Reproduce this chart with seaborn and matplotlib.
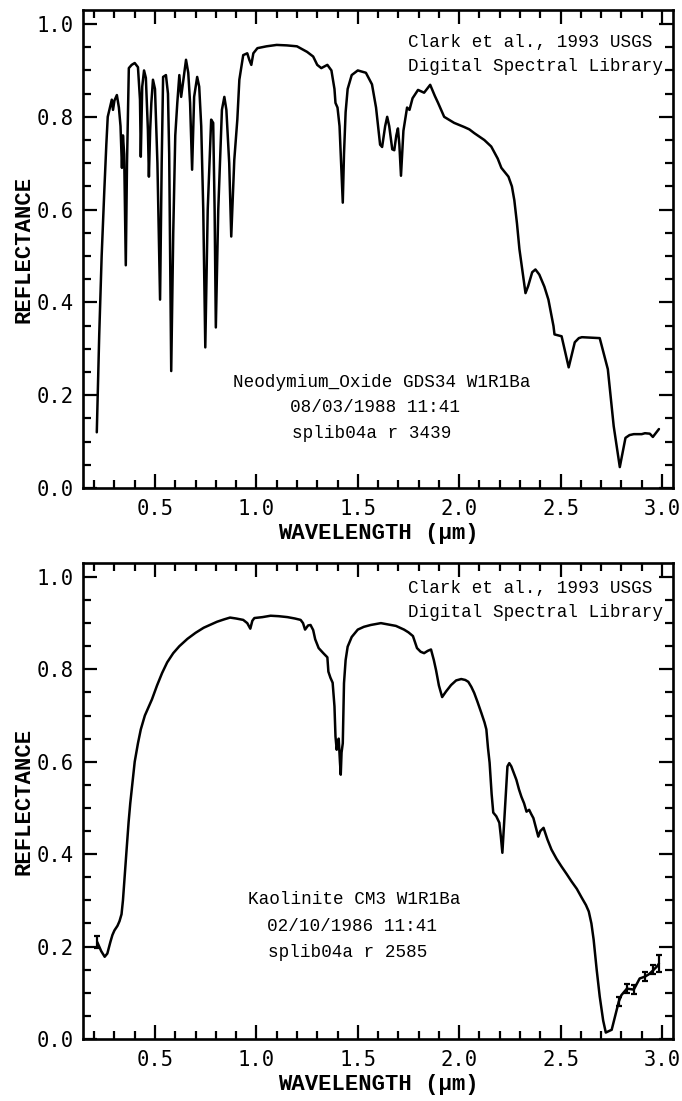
import matplotlib
matplotlib.use("Agg")
import matplotlib.pyplot as plt
from matplotlib.ticker import MultipleLocator
import seaborn as sns
import pandas as pd

# ---------------- data ----------------
neo_wl = [0.213, 0.225, 0.237, 0.250, 0.260, 0.267, 0.278, 0.287, 0.293, 0.300, 0.312,
          0.322, 0.330, 0.337, 0.342, 0.348, 0.352, 0.356, 0.362, 0.371, 0.385, 0.400,
          0.416, 0.426, 0.430, 0.437, 0.446, 0.455, 0.465, 0.470, 0.476, 0.482, 0.490,
          0.500, 0.512, 0.525, 0.533, 0.540, 0.554, 0.564, 0.570, 0.580, 0.590, 0.600,
          0.610, 0.620, 0.629, 0.640, 0.653, 0.664, 0.673, 0.683, 0.693, 0.708, 0.718,
          0.728, 0.738, 0.748, 0.760, 0.777, 0.787, 0.794, 0.800, 0.812, 0.830, 0.842,
          0.852, 0.866, 0.876, 0.891, 0.906, 0.916, 0.935, 0.955, 0.965, 0.975, 0.985,
          1.005, 1.05, 1.10, 1.15, 1.20, 1.25, 1.28, 1.30, 1.32, 1.35, 1.37, 1.385,
          1.39, 1.40, 1.41, 1.42, 1.426, 1.432, 1.44, 1.45, 1.47, 1.50, 1.54, 1.57,
          1.59, 1.61, 1.62, 1.635, 1.645, 1.655, 1.67, 1.68, 1.69, 1.698, 1.705, 1.713,
          1.725, 1.743, 1.755, 1.77, 1.797, 1.827, 1.857, 1.88, 1.896, 1.926, 1.975,
          2.025, 2.05, 2.074, 2.124, 2.158, 2.19, 2.208, 2.243, 2.26, 2.272, 2.285,
          2.297, 2.327, 2.34, 2.36, 2.376, 2.395, 2.42, 2.44, 2.465, 2.47, 2.505, 2.54,
          2.57, 2.59, 2.605, 2.693, 2.733, 2.762, 2.792, 2.82, 2.84, 2.861, 2.90, 2.916,
          2.94, 2.955, 2.985]
neo_refl = [0.12, 0.33, 0.50, 0.64, 0.74, 0.80, 0.82, 0.837, 0.815, 0.835, 0.847,
            0.82, 0.78, 0.69, 0.76, 0.72, 0.60, 0.48, 0.70, 0.905, 0.912, 0.916,
            0.907, 0.837, 0.714, 0.865, 0.90, 0.884, 0.772, 0.671, 0.77, 0.83, 0.88,
            0.86, 0.70, 0.406, 0.70, 0.886, 0.89, 0.85, 0.72, 0.252, 0.55, 0.76,
            0.83, 0.89, 0.843, 0.88, 0.923, 0.895, 0.83, 0.686, 0.843, 0.886, 0.865,
            0.78, 0.60, 0.303, 0.60, 0.794, 0.787, 0.60, 0.346, 0.60, 0.815, 0.843,
            0.815, 0.70, 0.542, 0.707, 0.794, 0.88, 0.933, 0.937, 0.923, 0.912, 0.937,
            0.948, 0.952, 0.955, 0.954, 0.952, 0.94, 0.93, 0.912, 0.905, 0.912, 0.90, 0.86,
            0.83, 0.82, 0.78, 0.68, 0.615, 0.72, 0.81, 0.86, 0.89, 0.90, 0.895, 0.87,
            0.82, 0.74, 0.735, 0.78, 0.80, 0.78, 0.73, 0.728, 0.76, 0.775, 0.74, 0.673,
            0.77, 0.82, 0.815, 0.84, 0.858, 0.852, 0.869, 0.845, 0.83, 0.80, 0.787,
            0.778, 0.773, 0.765, 0.75, 0.736, 0.71, 0.69, 0.671, 0.65, 0.62, 0.57,
            0.515, 0.42, 0.435, 0.465, 0.471, 0.46, 0.434, 0.406, 0.349, 0.331, 0.327, 0.26,
            0.314, 0.323, 0.325, 0.323, 0.256, 0.133, 0.045, 0.108, 0.114, 0.116, 0.116, 0.118,
            0.117, 0.11, 0.127]

kao_wl = [0.215, 0.235, 0.252, 0.265, 0.280, 0.290, 0.300, 0.315, 0.325, 0.335, 0.342,
          0.350, 0.360, 0.370, 0.378, 0.390, 0.400, 0.416, 0.430, 0.450, 0.485, 0.510,
          0.535, 0.560, 0.590, 0.620, 0.660, 0.700, 0.740, 0.780, 0.806, 0.840, 0.870,
          0.900, 0.935, 0.955, 0.970, 0.980, 0.990, 1.030, 1.070, 1.110, 1.153, 1.190,
          1.218, 1.230, 1.240, 1.255, 1.267, 1.280, 1.290, 1.307, 1.330, 1.350, 1.355,
          1.365, 1.376, 1.385, 1.390, 1.396, 1.402, 1.406, 1.412, 1.416, 1.420, 1.426,
          1.432, 1.440, 1.450, 1.470, 1.500, 1.530, 1.564, 1.614, 1.650, 1.688, 1.728,
          1.750, 1.772, 1.785, 1.792, 1.810, 1.827, 1.845, 1.861, 1.875, 1.886, 1.900,
          1.916, 1.935, 1.960, 1.985, 2.010, 2.030, 2.045, 2.060, 2.074, 2.090, 2.109,
          2.125, 2.134, 2.142, 2.150, 2.160, 2.168, 2.183, 2.198, 2.205, 2.213, 2.222,
          2.230, 2.238, 2.247, 2.257, 2.270, 2.282, 2.295, 2.307, 2.320, 2.332, 2.345,
          2.355, 2.366, 2.380, 2.390, 2.400, 2.416, 2.435, 2.455, 2.480, 2.505, 2.530,
          2.554, 2.580, 2.604, 2.625, 2.639, 2.652, 2.663, 2.678, 2.693, 2.710, 2.723,
          2.752, 2.787, 2.800, 2.827, 2.861, 2.890, 2.916, 2.935, 2.955, 2.975, 2.985]
kao_refl = [0.21, 0.19, 0.178, 0.185, 0.21, 0.225, 0.235, 0.245, 0.255, 0.27, 0.30,
            0.35, 0.41, 0.47, 0.51, 0.56, 0.60, 0.64, 0.67, 0.70, 0.735, 0.765,
            0.792, 0.815, 0.835, 0.85, 0.866, 0.879, 0.89, 0.898, 0.903, 0.908, 0.912,
            0.91, 0.907, 0.90, 0.888, 0.905, 0.911, 0.913, 0.916, 0.915, 0.913, 0.91,
            0.907, 0.90, 0.886, 0.895, 0.896, 0.885, 0.865, 0.846, 0.835, 0.826, 0.795,
            0.782, 0.771, 0.72, 0.655, 0.626, 0.645, 0.65, 0.60, 0.572, 0.62, 0.64,
            0.77, 0.82, 0.849, 0.87, 0.886, 0.892, 0.896, 0.90, 0.897, 0.894, 0.886,
            0.88, 0.872, 0.855, 0.846, 0.838, 0.835, 0.84, 0.843, 0.82, 0.798, 0.765,
            0.74, 0.752, 0.766, 0.776, 0.779, 0.777, 0.773, 0.762, 0.749, 0.73, 0.706,
            0.685, 0.67, 0.63, 0.598, 0.53, 0.49, 0.482, 0.468, 0.44, 0.403, 0.47,
            0.53, 0.59, 0.597, 0.59, 0.575, 0.561, 0.54, 0.524, 0.51, 0.492, 0.496,
            0.487, 0.478, 0.455, 0.438, 0.45, 0.457, 0.432, 0.41, 0.39, 0.373, 0.357,
            0.341, 0.325, 0.306, 0.29, 0.276, 0.25, 0.215, 0.15, 0.092, 0.04, 0.014,
            0.02, 0.081, 0.095, 0.109, 0.107, 0.131, 0.135, 0.14, 0.148, 0.157, 0.163]

kao_err_wl = [0.215, 2.787, 2.827, 2.861, 2.916, 2.955, 2.985]
kao_err_refl = [0.21, 0.081, 0.109, 0.107, 0.135, 0.150, 0.163]
kao_err = [0.012, 0.010, 0.010, 0.010, 0.010, 0.010, 0.018]

x_ticks = [0.5, 1.0, 1.5, 2.0, 2.5, 3.0]
y_ticks = [0.0, 0.2, 0.4, 0.6, 0.8, 1.0]

credit = ["Clark et al., 1993 USGS", "Digital Spectral Library"]
neo_label = ["Neodymium_Oxide GDS34 W1R1Ba", "08/03/1988 11:41", "splib04a r 3439"]
kao_label = ["Kaolinite CM3 W1R1Ba", "02/10/1986 11:41", "splib04a r 2585"]

# ---------------- style ----------------
sns.set_theme(style="white")
plt.rcParams['font.family'] = ['Liberation Mono', 'DejaVu Sans']

fig = plt.figure(figsize=(6.82, 11.01), dpi=100)
ax1 = fig.add_axes([0.1217, 0.5568, 0.865, 0.434])
ax2 = fig.add_axes([0.1217, 0.0563, 0.865, 0.4323])

def style_axes(ax):
    ax.set_xlim(0.145, 3.054)
    ax.set_ylim(0.0, 1.03)
    ax.set_xticks(x_ticks)
    ax.set_yticks(y_ticks)
    ax.set_xticklabels([f"{v:.1f}" for v in x_ticks])
    ax.set_yticklabels([f"{v:.1f}" for v in y_ticks])
    ax.xaxis.set_minor_locator(MultipleLocator(0.1))
    ax.yaxis.set_minor_locator(MultipleLocator(0.05))
    ax.tick_params(which='both', direction='in', top=True, right=True,
                   bottom=True, left=True, width=1.6, color='black')
    ax.tick_params(which='major', length=10)
    ax.tick_params(which='minor', length=5.5)
    ax.tick_params(axis='x', which='major', pad=8)
    ax.tick_params(axis='y', which='major', pad=7)
    for lab in ax.get_xticklabels() + ax.get_yticklabels():
        lab.set_family('DejaVu Sans Mono')
        lab.set_fontsize(14.8)
        lab.set_color('black')
    for sp in ax.spines.values():
        sp.set_linewidth(1.9)
        sp.set_color('black')
    ax.set_xlabel("WAVELENGTH (μm)", fontsize=16, fontweight='bold',
                  family=['Liberation Mono', 'DejaVu Sans'], labelpad=3, color='black')
    ax.set_ylabel("REFLECTANCE", fontsize=16, fontweight='bold',
                  family=['Liberation Mono', 'DejaVu Sans'], labelpad=1, color='black')
    ax.grid(False)

df_neo = pd.DataFrame({"wl": neo_wl, "refl": neo_refl})
df_kao = pd.DataFrame({"wl": kao_wl, "refl": kao_refl})

sns.lineplot(data=df_neo, x="wl", y="refl", sort=False, estimator=None,
             color='black', linewidth=1.8, ax=ax1)
sns.lineplot(data=df_kao, x="wl", y="refl", sort=False, estimator=None,
             color='black', linewidth=1.8, ax=ax2)
ax2.errorbar(kao_err_wl, kao_err_refl, yerr=kao_err, fmt='none', ecolor='black',
             elinewidth=1.6, capsize=2.5, capthick=1.6)

style_axes(ax1)
style_axes(ax2)

fs = 12.7
# credits
ax1.text(1.746, 0.961, credit[0], ha='left', va='center', fontsize=fs, color='black')
ax1.text(1.746, 0.908, credit[1], ha='left', va='center', fontsize=fs, color='black')
ax2.text(1.746, 0.974, credit[0], ha='left', va='center', fontsize=fs, color='black')
ax2.text(1.746, 0.922, credit[1], ha='left', va='center', fontsize=fs, color='black')

# sample labels
for txt, xx, yy in zip(neo_label, [1.619, 1.584, 1.569], [0.228, 0.174, 0.118]):
    ax1.text(xx, yy, txt, ha='center', va='center', fontsize=fs, color='black')
for txt, xx, yy in zip(kao_label, [1.485, 1.470, 1.450], [0.302, 0.243, 0.187]):
    ax2.text(xx, yy, txt, ha='center', va='center', fontsize=fs, color='black')

fig.savefig("out.png", dpi=100, facecolor='white')
